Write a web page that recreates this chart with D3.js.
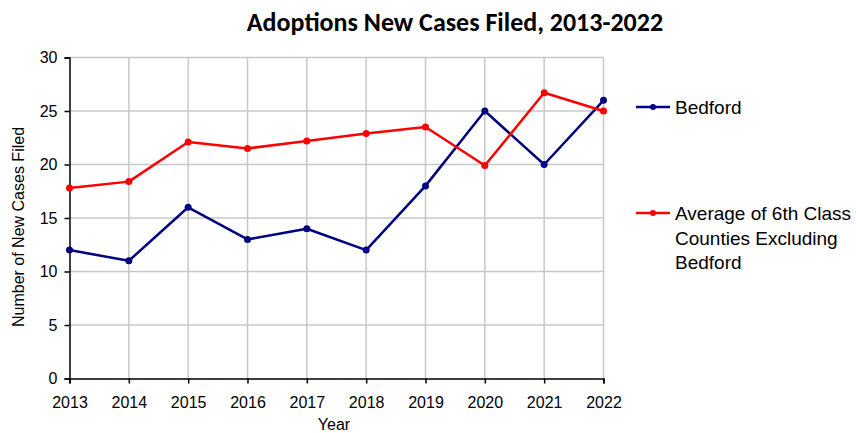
<!DOCTYPE html>
<html>
<head>
<meta charset="utf-8">
<script src="https://cdn.jsdelivr.net/npm/d3@7"></script>
<style>
  html, body { margin: 0; padding: 0; background: #fff; }
  svg { display: block; }
</style>
</head>
<body>
<svg id="chart" width="856" height="433"></svg>
<script>
// Adoption case filings by year
const years = [2013, 2014, 2015, 2016, 2017, 2018, 2019, 2020, 2021, 2022];
const bedford = [12, 11, 16, 13, 14, 12, 18, 25, 20, 26];
const avgSixthClass = [17.8, 18.4, 22.1, 21.5, 22.2, 22.9, 23.5, 19.9, 26.7, 25.0];
const yTicks = [0, 5, 10, 15, 20, 25, 30];
const seriesNames = ["Bedford", "Average of 6th Class Counties Excluding Bedford"];

const series = [
  { name: seriesNames[0], values: bedford, color: "#000080", legendLines: ["Bedford"] },
  { name: seriesNames[1], values: avgSixthClass, color: "#ff0000",
    legendLines: ["Average of 6th Class", "Counties Excluding", "Bedford"] }
];

const svg = d3.select("#chart");
const plot = { left: 69.5, right: 603.5, top: 57.5, bottom: 378.5 };
const font = "'Liberation Sans', Arial, sans-serif";

const x = d3.scalePoint().domain(years).range([plot.left, plot.right]);
const y = d3.scaleLinear().domain([0, 30]).range([plot.bottom, plot.top]);

// Grid
const grid = svg.append("g").attr("stroke", "#c8c8c8").attr("stroke-width", 1.5);
grid.selectAll("line.h").data(yTicks.filter(d => d > 0)).join("line")
  .attr("x1", plot.left).attr("x2", plot.right)
  .attr("y1", d => y(d)).attr("y2", d => y(d));
grid.selectAll("line.v").data(years.slice(1)).join("line")
  .attr("x1", d => x(d)).attr("x2", d => x(d))
  .attr("y1", plot.top).attr("y2", plot.bottom);

// Axes
const xAxis = svg.append("g")
  .attr("transform", `translate(0,${plot.bottom})`)
  .call(d3.axisBottom(x).tickSize(5).tickPadding(13).tickFormat(d3.format("d")));
const yAxis = svg.append("g")
  .attr("transform", `translate(${plot.left},0)`)
  .call(d3.axisLeft(y).tickValues(yTicks).tickSize(5).tickPadding(7));
[xAxis, yAxis].forEach(a => {
  a.select(".domain").attr("stroke", "#000").attr("stroke-width", 1.5);
  a.selectAll(".tick line").attr("stroke", "#000").attr("stroke-width", 1.5);
  a.selectAll(".tick text").attr("font-family", font).attr("font-size", 16).attr("fill", "#000");
});

// Lines and markers
const line = d3.line().x((d, i) => x(years[i])).y(d => y(d));
series.forEach(s => {
  svg.append("path").datum(s.values)
    .attr("fill", "none").attr("stroke", s.color).attr("stroke-width", 2.5)
    .attr("stroke-linejoin", "round").attr("d", line);
  svg.append("g").selectAll("circle").data(s.values).join("circle")
    .attr("cx", (d, i) => x(years[i])).attr("cy", d => y(d))
    .attr("r", 3.5).attr("fill", s.color);
});

// Title
svg.append("text")
  .attr("x", 455).attr("y", 31).attr("text-anchor", "middle")
  .attr("font-family", "Carlito, Lato, 'Open Sans', sans-serif")
  .attr("font-weight", "bold").attr("font-size", 26).attr("fill", "#000")
  .text("Adoptions New Cases Filed, 2013-2022");

// Axis titles
svg.append("text")
  .attr("x", 334).attr("y", 430).attr("text-anchor", "middle")
  .attr("font-family", font).attr("font-size", 16).attr("fill", "#000")
  .text("Year");
svg.append("text")
  .attr("transform", "translate(24,227) rotate(-90)")
  .attr("text-anchor", "middle")
  .attr("font-family", font).attr("font-size", 16).attr("fill", "#000")
  .text("Number of New Cases Filed");

// Legend
const legendTops = [107, 213];
series.forEach((s, i) => {
  const g = svg.append("g").attr("transform", `translate(636,${legendTops[i]})`);
  g.append("line").attr("x1", 0).attr("x2", 34).attr("y1", 0).attr("y2", 0)
    .attr("stroke", s.color).attr("stroke-width", 2.5);
  g.append("circle").attr("cx", 17).attr("cy", 0).attr("r", 3).attr("fill", s.color);
  g.append("text").attr("x", 39).attr("y", 7)
    .attr("font-family", font).attr("font-size", 19).attr("fill", "#000")
    .selectAll("tspan").data(s.legendLines).join("tspan")
    .attr("x", 39).attr("dy", (d, j) => j === 0 ? 0 : 24.5).text(d => d);
});
</script>
</body>
</html>
